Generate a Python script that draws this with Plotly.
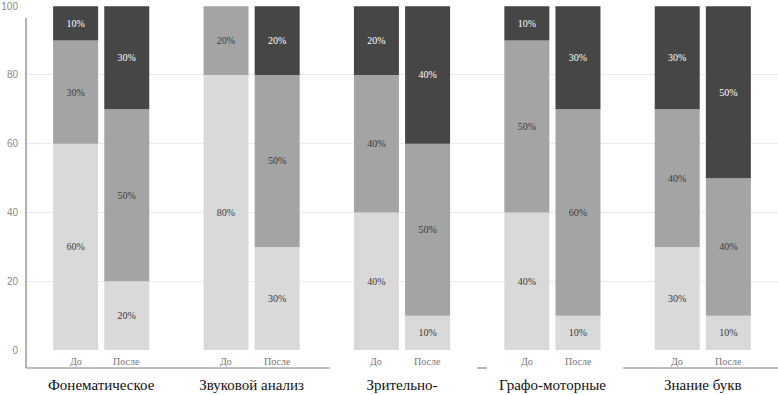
import plotly.graph_objects as go

categories = ["Фонематическое", "Звуковой анализ", "Зрительно-", "Графо-моторные", "Знание букв"]
periods = ["До", "После"]

# shares (%) for each level: light (bottom), mid, dark (top)
do_low = [60, 80, 40, 40, 30]
do_mid = [30, 20, 40, 50, 40]
do_high = [10, 0, 20, 10, 30]
posle_low = [20, 30, 10, 10, 10]
posle_mid = [50, 50, 50, 60, 40]
posle_high = [30, 20, 40, 30, 50]

y_ticks = [0, 20, 40, 60, 80, 100]
grid_values = [20, 40, 60, 80]

colors = ["#d9d9d9", "#a4a4a4", "#464646"]
text_colors = ["#3a3a3a", "#3a3a3a", "#ffffff"]

series = {
    "До": [do_low, do_mid, do_high],
    "После": [posle_low, posle_mid, posle_high],
}

fig = go.Figure()
for period in periods:
    levels = series[period]
    base = [0] * len(categories)
    for i, vals in enumerate(levels):
        fig.add_trace(go.Bar(
            x=categories,
            y=vals,
            base=list(base),
            offsetgroup=period,
            name=period,
            marker=dict(color=colors[i], line=dict(width=0)),
            text=[f"{v}%" if v else "" for v in vals],
            textposition="inside",
            insidetextanchor="middle",
            textangle=0,
            constraintext="none",
            textfont=dict(family="Liberation Serif", size=10, color=text_colors[i]),
            showlegend=False,
            hoverinfo="skip",
        ))
        base = [b + v for b, v in zip(base, vals)]

# sub-labels under each bar
half = 25.6
for cat in categories:
    for period, shift in zip(periods, [-half, half]):
        fig.add_annotation(
            x=cat, xref="x", y=0, yref="paper", yanchor="middle",
            yshift=7, xshift=shift, text=period, showarrow=False,
            font=dict(family="Liberation Serif", size=10, color="#777777"),
        )

# axis lines (partly broken bottom line as in the scan)
line_col = "#808080"
for x0, x1 in [(0, 0.404), (0.6, 0.613), (0.794, 1.0)]:
    fig.add_shape(type="line", xref="paper", yref="paper", x0=x0, x1=x1, y0=0, y1=0,
                  line=dict(color=line_col, width=1.2))
fig.add_shape(type="line", xref="paper", yref="paper", x0=0, x1=0, y0=0, y1=0.951,
              line=dict(color=line_col, width=1.2))

fig.update_layout(
    width=778, height=395,
    margin=dict(l=26, r=0, t=0, b=27),
    paper_bgcolor="white", plot_bgcolor="white",
    barmode="group", bargap=0.32, bargroupgap=0.12,
    showlegend=False,
)
fig.update_xaxes(
    type="category", showline=False, showgrid=False, ticks="",
    tickfont=dict(family="Liberation Serif", size=15, color="#111111"),
    ticklabelstandoff=6,
)
fig.update_yaxes(
    range=[-5.2, 101.8], tickvals=y_ticks, showgrid=False, zeroline=False,
    showline=False, ticks="",
    tickfont=dict(family="Liberation Sans", size=10, color="#8a8a8a"),
    ticklabelstandoff=7, ticklabeloverflow="allow",
    minor=dict(tickvals=grid_values, showgrid=True, gridcolor="#ebebeb", gridwidth=1, ticks=""),
)

fig.write_html(
    "out.html",
    config={"displayModeBar": False},
    post_script="document.body.style.margin='0px';document.body.style.padding='0px';",
)
